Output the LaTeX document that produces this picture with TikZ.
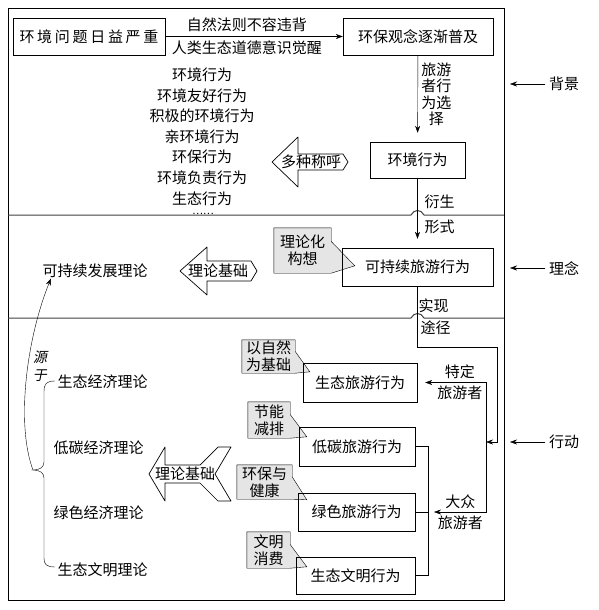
\documentclass[tikz,border=0pt]{standalone}
\usepackage{fontspec}
\setmainfont{Noto Sans CJK SC}
\newfontfamily\slantfont[FakeSlant=0.2]{Noto Sans CJK SC}
\usepackage{tikz}
\usetikzlibrary{calc, positioning, arrows.meta, backgrounds}
\tikzset{
	line width = .8pt,
	>={Stealth[length=7pt,width=5pt]},
	font = \fontsize{15}{17}\selectfont,
	box/.style={
		draw,
		rectangle,
		inner sep=0pt
	},
	note/.style={
		inner sep=0pt,
		align=center
	},
	note shape/.style={
		draw,
		fill=black!10
	},
	edge/.style={
		->
	},
	divider/.style={
		line width=1pt,
		draw=black!75
	},
	block/.style={
		draw,
		line width=.7pt,
		line join=round
	}
}

\begin{document}
\begin{tikzpicture}[x=1pt, y=-1pt]
		\useasboundingbox (0,0) rectangle (598,610);
		\draw (8,8) rectangle (504,600);
		\draw[divider] (8,215) -- (411,215) .. controls (414,209) and (421,209) .. (424,215) -- (504,215);
		\draw[divider] (8,318) -- (411,318) .. controls (414,312) and (421,312) .. (424,318) -- (504,318);

		\node[box, minimum width=152pt, minimum height=37pt, font=\fontsize{15}{17}\selectfont\addfontfeatures{LetterSpace=18}] (p) at (89,36.5) {环境问题日益严重};
		\node[box, minimum width=150pt, minimum height=37pt] (q) at (418,36.5) {环保观念逐渐普及};
		\node[box, minimum width=95pt, minimum height=36pt] (e) at (417.5,160) {环境行为};
		\node[box, minimum width=151pt, minimum height=38pt] (s) at (417.5,267) {可持续旅游行为};

		\node[box, minimum width=114pt, minimum height=39pt] (eco) at (360,382.5) {生态旅游行为};
		\node[box, minimum width=116pt, minimum height=39pt] (lc) at (357,446.5) {低碳旅游行为};
		\node[box, minimum width=117pt, minimum height=38pt] (gr) at (356.5,512) {绿色旅游行为};
		\node[box, minimum width=119pt, minimum height=37pt] (cv) at (355.5,575.5) {生态文明行为};

		\draw[edge] (p) -- (q) node[pos=.46, above=1pt] {自然法则不容违背} node[pos=.46, below=1pt] {人类生态道德意识觉醒};
		\draw[edge, shorten >=9pt] (q) -- (e) node[pos=.45, right, align=center, font=\fontsize{15}{16.5}\selectfont] {旅游\\者行\\为选\\择};
		\draw[edge, shorten >=9pt] (e) -- (s);
		\node[anchor=west] (ys) at (421,202) {衍生};
		\node[anchor=west] (xs) at (421,227) {形式};
		\node[anchor=west] (sx) at (415,306) {实现};
		\node[anchor=west] (tj) at (417,328) {途径};

		\coordinate (t) at (497,347);
		\coordinate (j) at (486,442);
		\coordinate (bk) at (428,512);
		\draw[edge] (s) |- (t) |- (j);
		\draw[edge, shorten >=8pt] (j) |- (eco) node[pos=.69, above] {特定} node[pos=.69, below] {旅游者};
		\draw[edge, shorten >=6pt] (j) |- (bk) node[pos=.72, above] {大众} node[pos=.72, below] {旅游者};
		\draw (lc.east) -| (cv.east -| bk) -- (cv.east);
		\draw (gr.east) -- (bk);

		\node[align=center, inner sep=0pt, font=\fontsize{15}{20.6}\selectfont] (names) at (202,136.5) {环境行为\\环境友好行为\\积极的环境行为\\亲环境行为\\环保行为\\环境负责行为\\生态行为};
		\node[font=\fontsize{10}{11}\selectfont, inner sep=0pt] (dots) at (203,213.5) {……};

		\node (mz) at (311,162) {多种称呼};
		\begin{scope}[shift={(mz.center)}]
			\draw[block] (-39,0) -- (-13,-25) -- (-13,-8) -- (32,-8) -- (37,0) -- (32,8) -- (-13,8) -- (-13,25) -- cycle;
		\end{scope}

		\node (sd) at (95,271) {可持续发展理论};
		\node (jc1) at (218,271) {理论基础};
		\begin{scope}[shift={(jc1.center)}]
			\draw[block] (-38,0) -- (-11,-24) -- (-11,-10) -- (33,-10) -- (39,0) -- (33,10) -- (-11,10) -- (-11,24) -- cycle;
		\end{scope}

		\node[anchor=west] (st) at (54,382) {生态经济理论};
		\node[anchor=west] (dt) at (50,448) {低碳经济理论};
		\node[anchor=west] (ls) at (50,513) {绿色经济理论};
		\node[anchor=west] (wm) at (54,570) {生态文明理论};

		\node (jc2) at (185,474) {理论基础};
		\begin{scope}[shift={(jc2.center)}]
			\draw[block] (-36,0) -- (-20,-27) -- (-20,-9) -- (15,-9) -- (33,-27) -- (46,-27) -- (30,0) -- (46,27) -- (33,27) -- (15,9) -- (-20,9) -- (-20,27) -- cycle;
		\end{scope}

		\coordinate (cusp) at (33,470);
		\draw (55,381) .. controls (46,381) and (44,384) .. (44,392) -- (44,462) .. controls (44,467) and (40,470) .. (cusp) .. controls (40,470) and (44,473) .. (44,478) -- (44,558) .. controls (44,564) and (46,567) .. (55,567);
		\draw[edge] (cusp) .. controls (16,425) and (26,340) .. ([xshift=12pt, yshift=3pt]sd.south west);
		\node[align=center, font=\slantfont\fontsize{14}{18}\selectfont] (yy) at (40,366) {源\\于};

		\node[note, minimum width=57pt, minimum height=45pt] (c1) at (302.5,250.5) {理论化\\构想};
		\node[note, minimum width=53pt, minimum height=33pt] (c2) at (268.5,356.5) {以自然\\为基础};
		\node[note, minimum width=42pt, minimum height=36pt] (c3) at (269,420) {节能\\减排};
		\node[note, minimum width=55pt, minimum height=34pt] (c4) at (264.5,482) {环保与\\健康};
		\node[note, minimum width=43pt, minimum height=36pt] (c5) at (268.5,550) {文明\\消费};

		\begin{scope}[on background layer]
			\draw[note shape] (c1.north west) -- (c1.north east) -- ($(c1.north east)!.3!(c1.south east)$) -- ([shift={(13,18)}]s.north west) -- (c1.south east) -- (c1.south west) -- cycle;
			\draw[note shape] (c2.north west) -- (c2.north east) -- ($(c2.north east)!.35!(c2.south east)$) -- ([shift={(7,9)}]eco.north west) -- (c2.south east) -- (c2.south west) -- cycle;
			\draw[note shape] (c3.north west) -- (c3.north east) -- ($(c3.north east)!.35!(c3.south east)$) -- ([shift={(8,10)}]lc.north west) -- (c3.south east) -- (c3.south west) -- cycle;
			\draw[note shape] (c4.north west) -- (c4.north east) -- ($(c4.north east)!.35!(c4.south east)$) -- ([shift={(9,7)}]gr.north west) -- (c4.south east) -- (c4.south west) -- cycle;
			\draw[note shape] (c5.north west) -- (c5.north east) -- ($(c5.north east)!.35!(c5.south east)$) -- ([shift={(11,10)}]cv.north west) -- (c5.south east) -- (c5.south west) -- cycle;
		\end{scope}

		\node (bg) at (564,84) {背景};
		\node (ln) at (564,268) {理念};
		\node (xd) at (564,442) {行动};
		\coordinate (bga) at (510,84);
		\coordinate (lna) at (510,268);
		\coordinate (xda) at (510,442);
		\draw[edge] (bg) -- (bga);
		\draw[edge] (ln) -- (lna);
		\draw[edge] (xd) -- (xda);
	\end{tikzpicture}
\end{document}
